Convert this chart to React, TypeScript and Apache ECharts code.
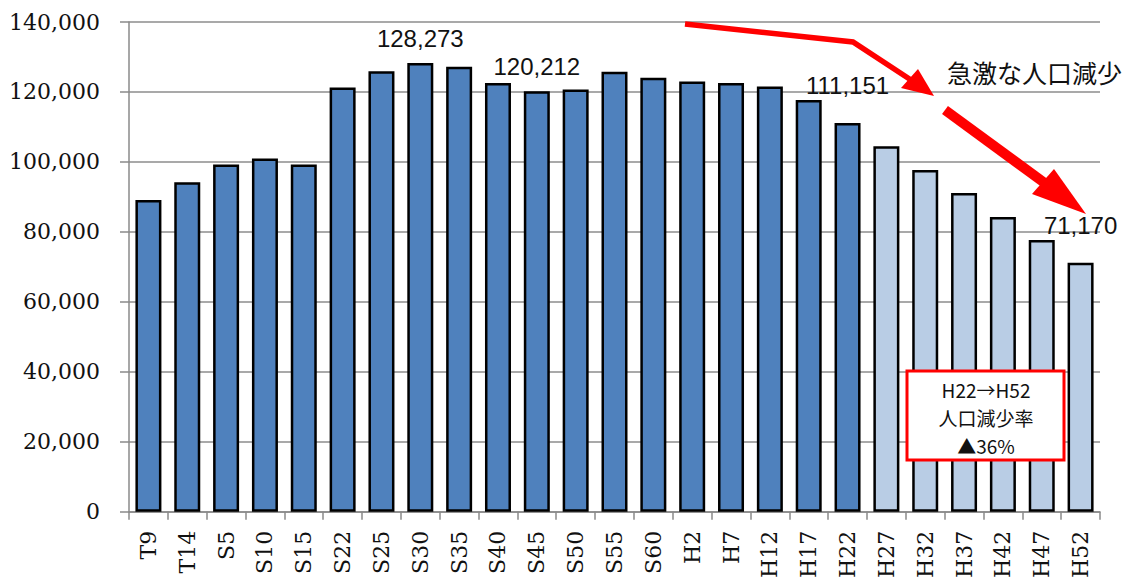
import React, { useEffect, useRef } from "react";
import * as echarts from "echarts";

const categories = ["T9", "T14", "S5", "S10", "S15", "S22", "S25", "S30", "S35", "S40", "S45", "S50", "S55", "S60", "H2", "H7", "H12", "H17", "H22", "H27", "H32", "H37", "H42", "H47", "H52"];
const population = [89100, 94200, 99300, 101000, 99300, 121300, 125900, 128273, 127200, 122600, 120212, 120700, 125800, 124100, 123000, 122600, 121600, 117700, 111151, 104500, 97700, 91100, 84300, 77700, 71170];
const projectionStart = "H27";
const labelledCategories = ["S30", "S45", "H22", "H52"];
const yMin = 0;
const yMax = 140000;
const yInterval = 20000;
const annotationText = "急激な人口減少";
const boxLines = ["H22→H52", "人口減少率", "▲36%"];

const fmt = (v: number) => v.toLocaleString("en-US");

export default function App() {
  const ref = useRef<HTMLDivElement>(null);
  useEffect(() => {
    document.body.style.margin = "0";
    const chart = echarts.init(ref.current!, null, { renderer: "svg" });
    const projIdx = categories.indexOf(projectionStart);
    const data = population.map((v, i) => {
      const labelled = labelledCategories.includes(categories[i]);
      return {
        value: v,
        itemStyle: { color: i >= projIdx ? "#B9CDE5" : "#4F81BD" },
        label: {
          show: labelled,
          distance: i >= categories.indexOf("H22") ? 25 : 13,
        },
      };
    });
    chart.setOption({
      animation: false,
      grid: { left: 129, right: 33, top: 22, bottom: 67, containLabel: false },
      xAxis: {
        type: "category",
        data: categories,
        axisLine: { lineStyle: { color: "#8a8a8a", width: 1.5 } },
        axisTick: { show: true, interval: 0, length: 8, lineStyle: { color: "#8a8a8a", width: 1.5 } },
        axisLabel: {
          interval: 0,
          rotate: 90,
          margin: 19,
          color: "#111",
          fontFamily: "DejaVu Serif",
          fontSize: 22,
        },
      },
      yAxis: {
        type: "value",
        min: yMin,
        max: yMax,
        interval: yInterval,
        axisLine: { show: true, lineStyle: { color: "#8a8a8a", width: 1.5 } },
        axisTick: { show: true, length: 9, lineStyle: { color: "#8a8a8a", width: 1.5 } },
        splitLine: { lineStyle: { color: "#8c8c8c", width: 1.5 } },
        axisLabel: {
          margin: 29,
          color: "#111",
          fontFamily: "DejaVu Serif",
          fontSize: 22,
          formatter: (v: number) => fmt(v),
        },
      },
      series: [
        {
          type: "bar",
          data,
          barWidth: 26,
          itemStyle: { borderColor: "#000", borderWidth: 2.5 },
          label: {
            position: "top",
            color: "#111",
            fontFamily: "Liberation Sans",
            fontSize: 24,
            formatter: (p: any) => fmt(p.value),
          },
        },
      ],
      graphic: [
        {
          type: "polyline",
          z: 100,
          shape: { points: [[685, 24], [853, 42], [911, 80]] },
          style: { stroke: "#ff0000", lineWidth: 5.5, fill: null },
        },
        {
          type: "polygon",
          z: 100,
          shape: { points: [[901, 88], [918, 69], [934, 96]] },
          style: { fill: "#ff0000" },
        },
        {
          type: "line",
          z: 100,
          shape: { x1: 945, y1: 110, x2: 1046, y2: 184 },
          style: { stroke: "#ff0000", lineWidth: 10 },
        },
        {
          type: "polygon",
          z: 100,
          shape: { points: [[1032, 194], [1054, 169], [1086, 214]] },
          style: { fill: "#ff0000" },
        },
        {
          type: "text",
          z: 100,
          x: 947,
          y: 72,
          style: {
            text: annotationText,
            fill: "#111",
            font: '25px "Noto Sans CJK JP"',
            verticalAlign: "middle",
          },
        },
        {
          type: "rect",
          z: 100,
          shape: { x: 907, y: 371, width: 157, height: 89 },
          style: { fill: "#fff", stroke: "#ff0000", lineWidth: 3 },
        },
        ...boxLines.map((t, i) => ({
          type: "text",
          z: 101,
          x: 986,
          y: 389 + i * 28,
          style: {
            text: t,
            fill: "#111",
            font: '19px "Noto Sans CJK JP"',
            align: "center",
            verticalAlign: "middle",
          },
        })),
      ],
    });
    return () => chart.dispose();
  }, []);
  return <div ref={ref} style={{ width: 1133, height: 581 }} />;
}
